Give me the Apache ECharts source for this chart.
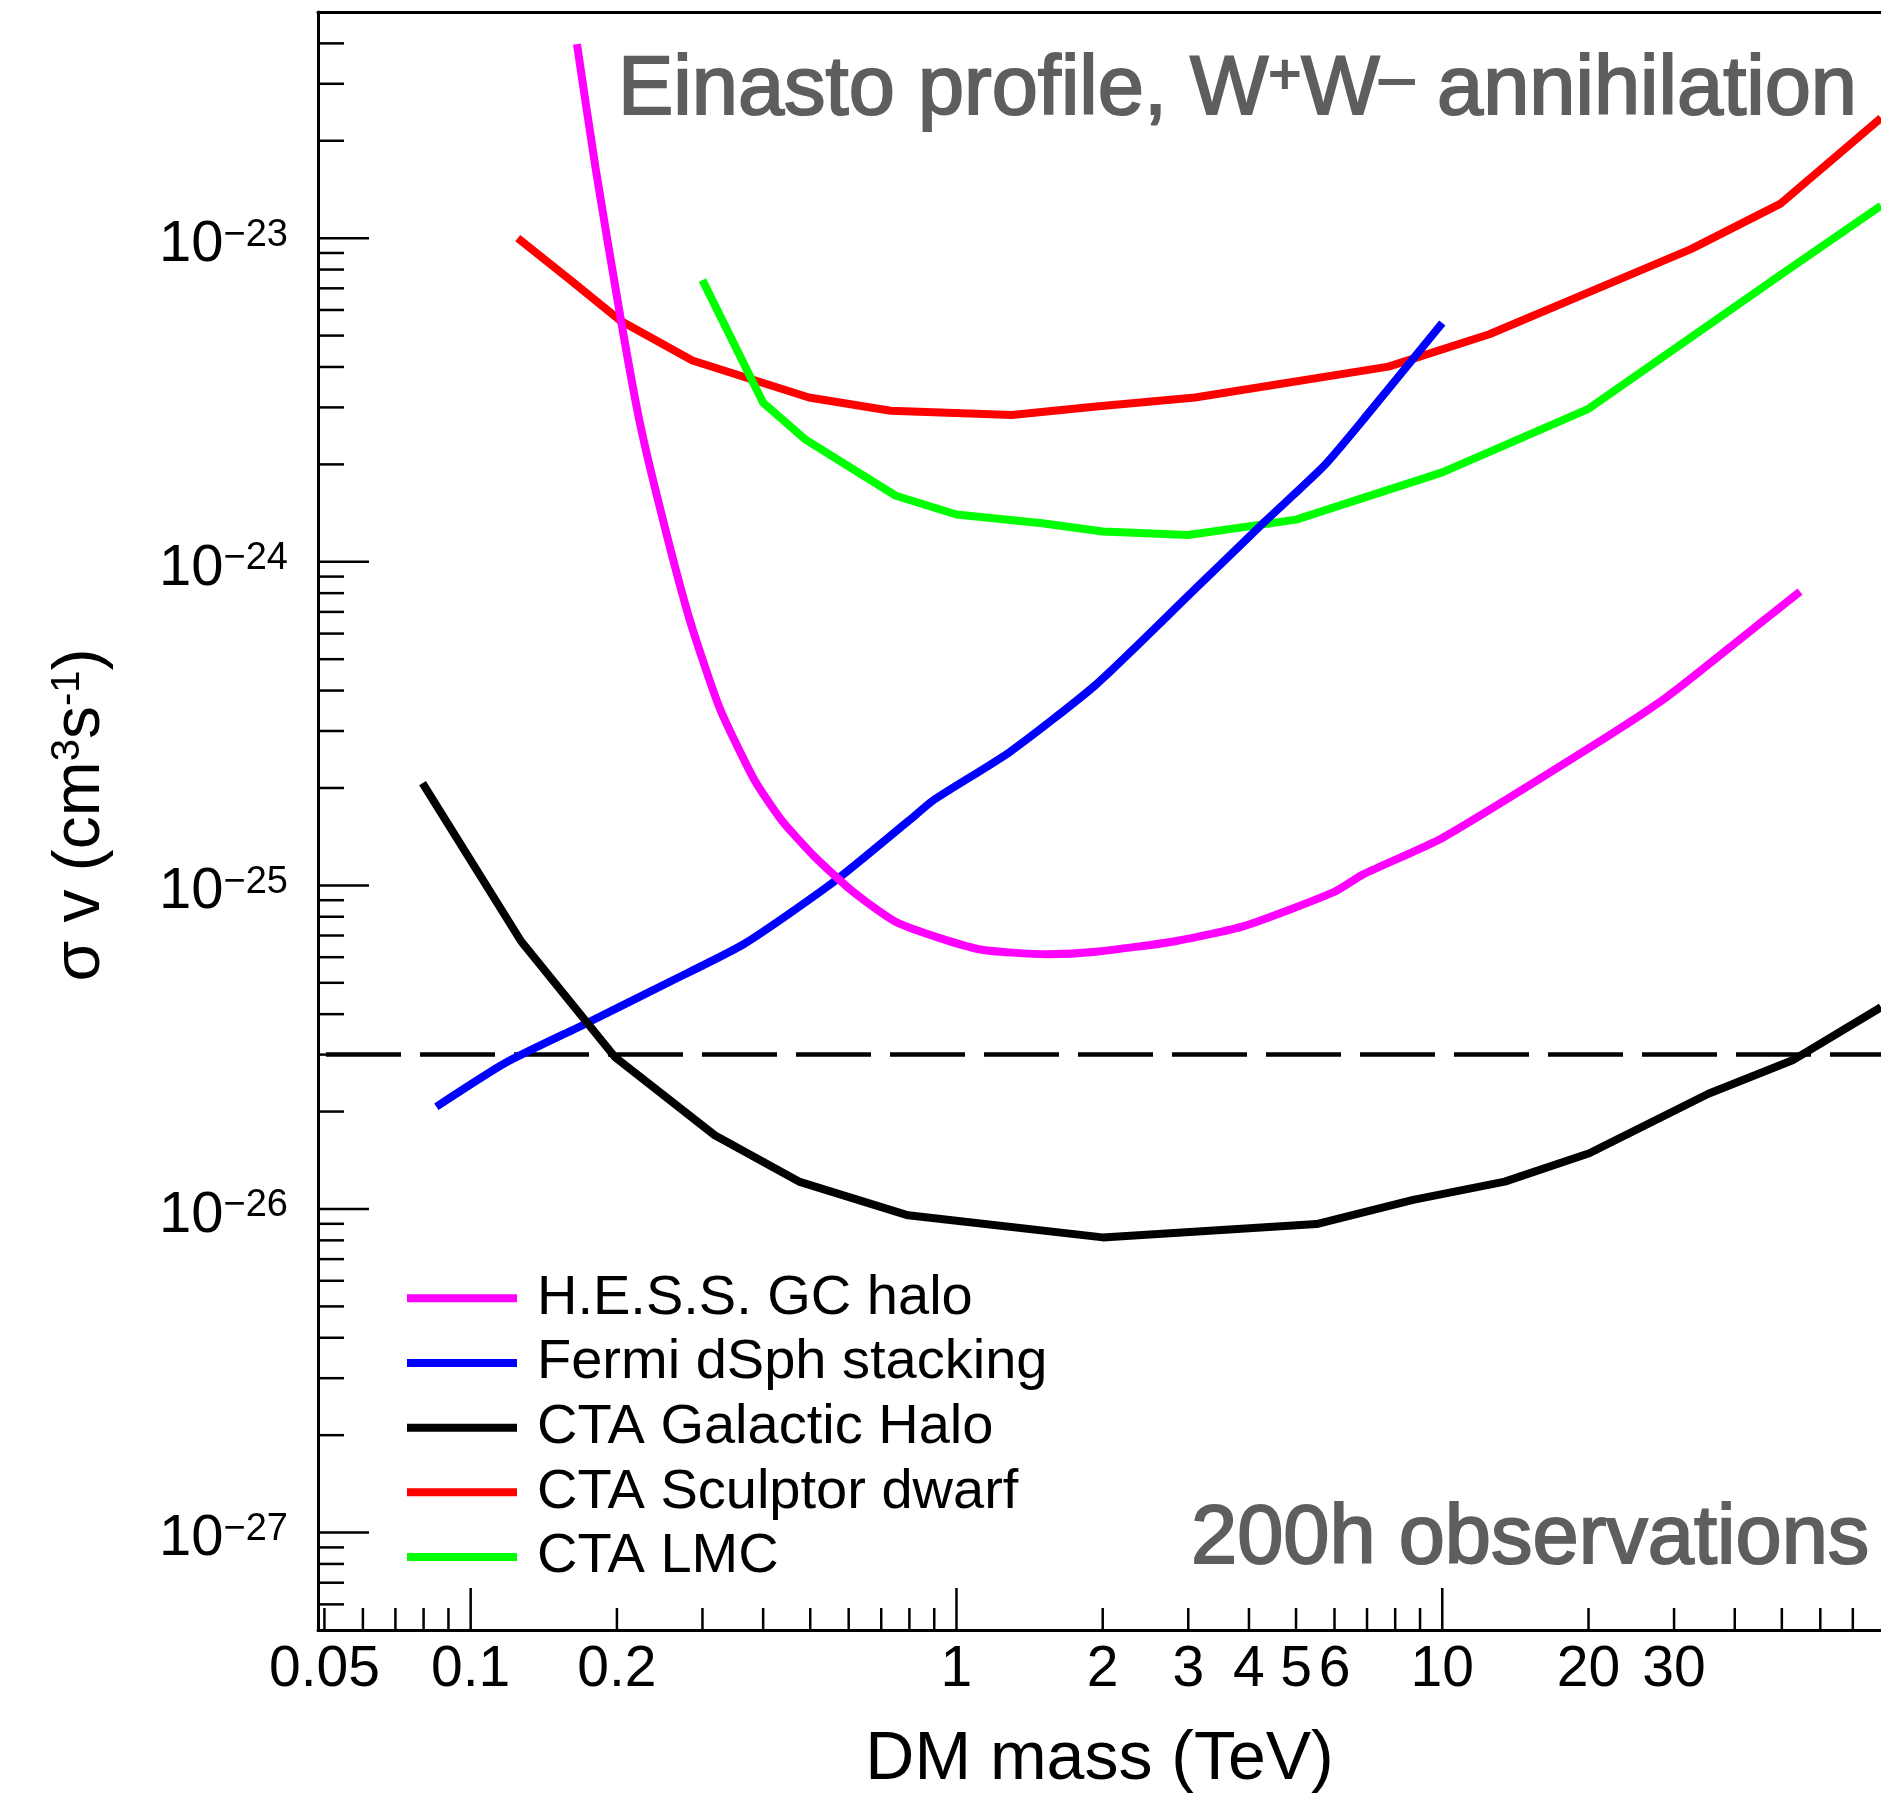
<!DOCTYPE html>
<html>
<head>
<meta charset="utf-8">
<script src="https://cdn.jsdelivr.net/npm/echarts@6/dist/echarts.min.js"></script>
<style>
html,body{margin:0;padding:0;background:#fff;}
#chart{width:1881px;height:1799px;}
</style>
</head>
<body>
<div id="chart"></div>
<script>
// ---------------- data (DM mass in TeV, <sigma v> in cm^3 s^-1) ----------------
const hessMass    = [0.1655, 0.1806, 0.2032, 0.2233, 0.251, 0.2825, 0.3253, 0.3836, 0.4365, 0.509, 0.614, 0.759, 1.106, 1.538, 1.94, 2.82, 3.92, 5.98, 6.89, 10.0, 20.3, 28.9, 39.2, 54.5];
const hessSigmaV  = [3.98e-23, 1.661e-23, 5.74e-24, 2.66e-24, 1.278e-24, 6.61e-25, 3.54e-25, 2.12e-25, 1.59e-25, 1.232e-25, 9.53e-26, 7.64e-26, 6.36e-26, 6.13e-26, 6.24e-26, 6.72e-26, 7.50e-26, 9.53e-26, 1.084e-25, 1.402e-25, 2.69e-25, 3.81e-25, 5.46e-25, 8.09e-25];

const fermiMass   = [0.085, 0.118, 0.172, 0.251, 0.366, 0.559, 0.80, 0.895, 1.29, 1.94, 3.10, 4.30, 5.71, 6.89, 10.0];
const fermiSigmaV = [2.07e-26, 2.83e-26, 3.73e-26, 4.95e-26, 6.60e-26, 1.025e-25, 1.59e-25, 1.83e-25, 2.59e-25, 4.18e-25, 8.24e-25, 1.325e-24, 1.98e-24, 2.76e-24, 5.47e-24];

const ghMass      = [0.0796, 0.127, 0.1985, 0.318, 0.474, 0.795, 2.0, 5.51, 8.71, 13.45, 20.07, 35.3, 52.6, 80];
const ghSigmaV    = [2.07e-25, 6.72e-26, 2.94e-26, 1.69e-26, 1.215e-26, 9.56e-27, 8.17e-27, 8.98e-27, 1.067e-26, 1.215e-26, 1.487e-26, 2.27e-26, 2.88e-26, 4.2e-26];

const sculptorMass   = [0.125, 0.16, 0.203, 0.286, 0.497, 0.732, 1.30, 1.94, 3.10, 7.75, 12.5, 20, 32.5, 49.6, 80];
const sculptorSigmaV = [1.0e-23, 7.45e-24, 5.57e-24, 4.19e-24, 3.22e-24, 2.93e-24, 2.84e-24, 3.02e-24, 3.22e-24, 4.01e-24, 5.05e-24, 6.8e-24, 9.25e-24, 1.276e-23, 2.35e-23];

const lmcMass     = [0.3, 0.4, 0.49, 0.75, 1.0, 1.5, 2.0, 3.0, 5.0, 10, 20, 50, 80];
const lmcSigmaV   = [7.42e-24, 3.10e-24, 2.38e-24, 1.60e-24, 1.40e-24, 1.315e-24, 1.24e-24, 1.21e-24, 1.35e-24, 1.89e-24, 2.97e-24, 7.75e-24, 1.26e-23];

const thermalRelic = 3e-26;

const seriesNames = ['H.E.S.S. GC halo', 'Fermi dSph stacking', 'CTA Galactic Halo', 'CTA Sculptor dwarf', 'CTA LMC'];

// axes
const xAxisMin = 0.0485, xAxisMax = 80;
const yAxisMin = 5e-28, yAxisMax = 5e-23;
const xMajorTicks = [0.1, 1, 10];
const xMinorTicks = [0.05, 0.06, 0.07, 0.08, 0.09, 0.2, 0.3, 0.4, 0.5, 0.6, 0.7, 0.8, 0.9, 2, 3, 4, 5, 6, 7, 8, 9, 20, 30, 40, 50, 60, 70];
const xTickLabelValues = [0.05, 0.1, 0.2, 1, 2, 3, 4, 5, 6, 10, 20, 30];
const xTickLabels = ['0.05', '0.1', '0.2', '1', '2', '3', '4', '5', '6', '10', '20', '30'];
const yMajorTicks = [1e-27, 1e-26, 1e-25, 1e-24, 1e-23];
const yMinorTicks = [6e-28, 7e-28, 8e-28, 9e-28,
  2e-27, 3e-27, 4e-27, 5e-27, 6e-27, 7e-27, 8e-27, 9e-27,
  2e-26, 3e-26, 4e-26, 5e-26, 6e-26, 7e-26, 8e-26, 9e-26,
  2e-25, 3e-25, 4e-25, 5e-25, 6e-25, 7e-25, 8e-25, 9e-25,
  2e-24, 3e-24, 4e-24, 5e-24, 6e-24, 7e-24, 8e-24, 9e-24,
  2e-23, 3e-23, 4e-23];
const yTickExponents = ['−27', '−26', '−25', '−24', '−23'];

// ---------------- chart ----------------
const FONT = '"Liberation Sans", Arial, Helvetica, sans-serif';
const pairs = (xs, ys) => xs.map((x, i) => [x, ys[i]]);

function lineSeries(name, xs, ys, color, extra) {
  return Object.assign({
    name: name, type: 'line', data: pairs(xs, ys),
    symbol: 'none', showSymbol: false, silent: true,
    lineStyle: { color: color, width: 8 }, itemStyle: { color: color },
    emphasis: { disabled: true }, animation: false
  }, extra || {});
}

const chart = echarts.init(document.getElementById('chart'), null, { renderer: 'canvas' });

const option = {
  backgroundColor: '#ffffff',
  animation: false,
  grid: { left: 318, top: 12, width: 1571, height: 1619, containLabel: false },
  xAxis: [{
    type: 'log', logBase: 10, min: xAxisMin, max: xAxisMax, position: 'bottom',
    axisLine: { show: true, lineStyle: { color: '#000', width: 3 } },
    axisTick: { show: false }, axisLabel: { show: false }, splitLine: { show: false },
    name: 'DM mass (TeV)', nameLocation: 'middle', nameGap: 96,
    nameTextStyle: { fontFamily: FONT, fontSize: 68, lineHeight: 68, color: '#000' }
  }, {
    type: 'log', logBase: 10, min: xAxisMin, max: xAxisMax, position: 'top',
    axisLine: { show: true, lineStyle: { color: '#000', width: 3 } },
    axisTick: { show: false }, axisLabel: { show: false }, splitLine: { show: false }
  }],
  yAxis: [{
    type: 'log', logBase: 10, min: yAxisMin, max: yAxisMax,
    axisLine: { show: true, lineStyle: { color: '#000', width: 3 } },
    axisTick: { show: false }, axisLabel: { show: false }, splitLine: { show: false },
    name: '{a|σ v (cm}{s|3}{a|s}{s|-1}{a|)}', nameLocation: 'middle', nameGap: 204, nameRotate: 90,
    nameTextStyle: {
      fontFamily: FONT, fontSize: 66, color: '#000', padding: [0, 0, 0, 12],
      rich: {
        a: { fontFamily: FONT, fontSize: 66, lineHeight: 66, color: '#000' },
        s: { fontFamily: FONT, fontSize: 40, lineHeight: 8, verticalAlign: 'top', color: '#000' }
      }
    }
  }],
  legend: {
    data: seriesNames, orient: 'vertical', left: 407, top: 1266, padding: 0, itemGap: 0,
    itemWidth: 110, itemHeight: 8, icon: 'rect', selectedMode: false,
    textStyle: { fontFamily: FONT, fontSize: 56, color: '#000', lineHeight: 52.65, padding: [0, 0, 12, 15] }
  },
  graphic: [{
    type: 'text', x: 618, y: 49.7, silent: true,
    style: {
      text: '{a|Einasto profile, W}{p|+}{a|W}{m|–}{a| annihilation}',
      fill: '#5e5e5e', stroke: '#5e5e5e', lineWidth: 2,
      fontFamily: FONT, fontSize: 83, align: 'left', verticalAlign: 'top',
      rich: {
        a: { fontFamily: FONT, fontSize: 83, lineHeight: 83 },
        p: { fontFamily: FONT, fontSize: 56, lineHeight: 74, verticalAlign: 'top' },
        m: { fontFamily: FONT, fontSize: 62, lineHeight: 62, verticalAlign: 'top' }
      }
    }
  }, {
    type: 'text', x: 1191, y: 1540, silent: true,
    style: {
      text: '200h observations', fill: '#5e5e5e', stroke: '#5e5e5e', lineWidth: 2,
      fontFamily: FONT, fontSize: 83, align: 'left', verticalAlign: 'middle'
    }
  }],
  series: [
    {
      name: 'Thermal relic', type: 'line', silent: true, symbol: 'none', showSymbol: false,
      animation: false, emphasis: { disabled: true },
      data: [[xAxisMin, thermalRelic], [xAxisMax, thermalRelic]],
      lineStyle: { type: [75, 19], dashOffset: 86, color: '#000', width: 4.5 },
      itemStyle: { color: '#000' }
    },
    lineSeries(seriesNames[3], sculptorMass, sculptorSigmaV, '#ff0000'),
    lineSeries(seriesNames[4], lmcMass, lmcSigmaV, '#00ff00'),
    lineSeries(seriesNames[1], fermiMass, fermiSigmaV, '#0000ff', { smooth: 0.2 }),
    lineSeries(seriesNames[0], hessMass, hessSigmaV, '#ff00ff', { smooth: 0.2 }),
    lineSeries(seriesNames[2], ghMass, ghSigmaV, '#000000'),
    {
      name: 'xTicks', type: 'custom', silent: true, clip: false, z: 10, animation: false,
      data: xMinorTicks.map(v => [v, yAxisMin, 0]).concat(xMajorTicks.map(v => [v, yAxisMin, 1])),
      encode: { x: 0, y: 1 },
      renderItem: function (params, api) {
        const p = api.coord([api.value(0), api.value(1)]);
        const len = api.value(2) ? 42 : 22;
        return { type: 'line', shape: { x1: p[0], y1: p[1], x2: p[0], y2: p[1] - len }, style: { stroke: '#000', lineWidth: 2.5 } };
      }
    },
    {
      name: 'yTicks', type: 'custom', silent: true, clip: false, z: 10, animation: false,
      data: yMinorTicks.map(v => [xAxisMin, v, 0]).concat(yMajorTicks.map(v => [xAxisMin, v, 1])),
      encode: { x: 0, y: 1 },
      renderItem: function (params, api) {
        const p = api.coord([api.value(0), api.value(1)]);
        const len = api.value(2) ? 51 : 26;
        return { type: 'line', shape: { x1: p[0], y1: p[1], x2: p[0] + len, y2: p[1] }, style: { stroke: '#000', lineWidth: 2.5 } };
      }
    },
    {
      name: 'xLabels', type: 'custom', silent: true, clip: false, z: 10, animation: false,
      data: xTickLabelValues.map(v => [v, yAxisMin]),
      encode: { x: 0, y: 1 },
      renderItem: function (params, api) {
        const p = api.coord([api.value(0), api.value(1)]);
        return {
          type: 'text', x: p[0], y: p[1] + 40.75,
          style: { text: xTickLabels[params.dataIndex], fill: '#000', fontFamily: FONT, fontSize: 57, align: 'center', verticalAlign: 'middle' }
        };
      }
    },
    {
      name: 'yLabels', type: 'custom', silent: true, clip: false, z: 10, animation: false,
      data: yMajorTicks.map(v => [xAxisMin, v]),
      encode: { x: 0, y: 1 },
      renderItem: function (params, api) {
        const p = api.coord([api.value(0), api.value(1)]);
        return {
          type: 'text', x: p[0] - 30, y: p[1] + 6.9,
          style: {
            text: '{b|10}{s|' + yTickExponents[params.dataIndex] + '}',
            fill: '#000', fontFamily: FONT, fontSize: 58, align: 'right', verticalAlign: 'middle',
            rich: {
              b: { fontFamily: FONT, fontSize: 58, lineHeight: 58 },
              s: { fontFamily: FONT, fontSize: 38, lineHeight: 16, verticalAlign: 'top' }
            }
          }
        };
      }
    }
  ]
};

chart.setOption(option);
</script>
</body>
</html>
